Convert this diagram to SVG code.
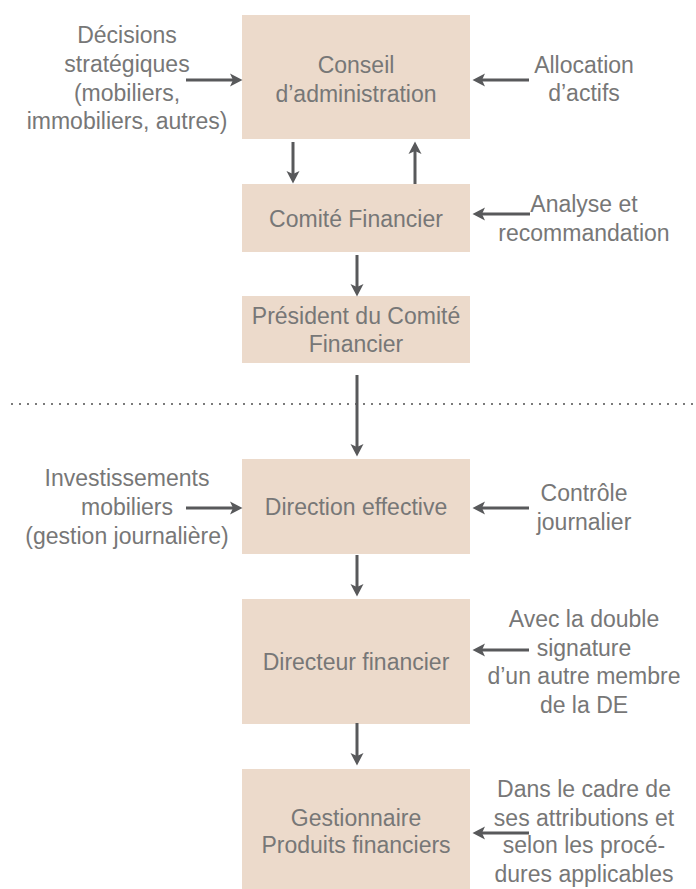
<svg xmlns="http://www.w3.org/2000/svg" width="696" height="889" viewBox="0 0 696 889">
<style>
.box{fill:#ecdacb}
.t{font-family:"Liberation Sans",Arial,sans-serif;font-size:23px;fill:#777777;text-anchor:middle}
.c{stroke:#58595b;stroke-width:3;fill:none;marker-end:url(#ah)}
.dot{stroke:#7a7a7a;stroke-width:2;stroke-dasharray:2 6}
</style>
<defs>
<marker id="ah" markerUnits="userSpaceOnUse" markerWidth="14" markerHeight="14" viewBox="0 -7 14 14" refX="3" refY="0" orient="auto">
<path d="M0,-6.5 L12.5,0 L0,6.5 L3,0 z" fill="#58595b"/>
</marker>
</defs>
<rect width="696" height="889" fill="#ffffff"/>
<g id="conseil"><rect class="box" x="242" y="15" width="228" height="124"/>
<text class="t" x="356" y="73">Conseil</text><text class="t" x="356" y="102">d’administration</text></g>
<g id="comite"><rect class="box" x="242" y="184" width="228" height="68"/>
<text class="t" x="356" y="227">Comité Financier</text></g>
<g id="president"><rect class="box" x="242" y="296" width="228" height="67"/>
<text class="t" x="356" y="324">Président du Comité</text><text class="t" x="356" y="352">Financier</text></g>
<g id="direction"><rect class="box" x="242" y="459" width="228" height="95"/>
<text class="t" x="356" y="515">Direction effective</text></g>
<g id="directeur"><rect class="box" x="242" y="599" width="228" height="125"/>
<text class="t" x="356" y="670">Directeur financier</text></g>
<g id="gestionnaire"><rect class="box" x="242" y="769" width="228" height="120"/>
<text class="t" x="356" y="826">Gestionnaire</text><text class="t" x="356" y="853">Produits financiers</text></g>
<g id="lbl-decisions"><text class="t" x="127" y="43">Décisions</text><text class="t" x="127" y="72">stratégiques</text><text class="t" x="127" y="101">(mobiliers,</text><text class="t" x="127" y="129">immobiliers, autres)</text></g>
<g id="lbl-allocation"><text class="t" x="584" y="73">Allocation</text><text class="t" x="584" y="101">d’actifs</text></g>
<g id="lbl-analyse"><text class="t" x="584" y="212">Analyse et</text><text class="t" x="584" y="241">recommandation</text></g>
<g id="lbl-invest"><text class="t" x="127" y="486">Investissements</text><text class="t" x="127" y="515">mobiliers</text><text class="t" x="127" y="544">(gestion journalière)</text></g>
<g id="lbl-controle"><text class="t" x="584" y="501">Contrôle</text><text class="t" x="584" y="530">journalier</text></g>
<g id="lbl-avec"><text class="t" x="584" y="627">Avec la double</text><text class="t" x="584" y="656">signature</text><text class="t" x="584" y="684">d’un autre membre</text><text class="t" x="584" y="713">de la DE</text></g>
<g id="lbl-dans"><text class="t" x="584" y="797">Dans le cadre de</text><text class="t" x="584" y="826">ses attributions et</text><text class="t" x="584" y="853">selon les procé-</text><text class="t" x="584" y="882">dures applicables</text></g>
<line class="dot" x1="11" y1="404" x2="696" y2="404"/>
<g id="connectors">
<line class="c" x1="186" y1="80" x2="233" y2="80"/>
<line class="c" x1="529" y1="80" x2="482" y2="80"/>
<line class="c" x1="293" y1="142" x2="293" y2="174"/>
<line class="c" x1="415" y1="184" x2="415" y2="151"/>
<line class="c" x1="530" y1="214" x2="482" y2="214"/>
<line class="c" x1="357" y1="255" x2="357" y2="287"/>
<line class="c" x1="357" y1="375" x2="357" y2="447"/>
<line class="c" x1="186" y1="508" x2="233" y2="508"/>
<line class="c" x1="529" y1="508" x2="482" y2="508"/>
<line class="c" x1="357" y1="555" x2="357" y2="587"/>
<line class="c" x1="529" y1="650" x2="482" y2="650"/>
<line class="c" x1="357" y1="723" x2="357" y2="756"/>
<line class="c" x1="529" y1="833" x2="482" y2="833"/>
</g>
</svg>
